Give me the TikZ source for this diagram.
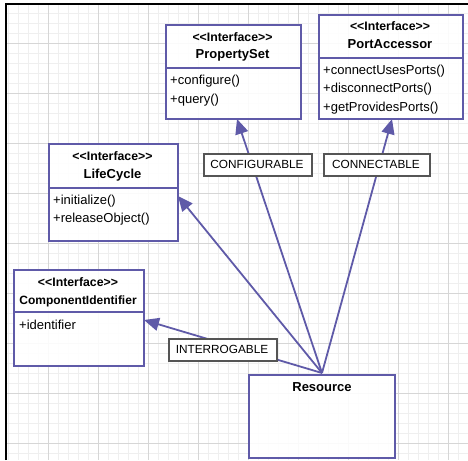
\documentclass[tikz,border=0pt]{standalone}
\usepackage{fontspec}
\setmainfont{Liberation Sans}[Ligatures=TeXOff]
\usetikzlibrary{arrows.meta}

\definecolor{umlblue}{HTML}{5F5AA8}
\definecolor{gridminor}{HTML}{EFEFEF}
\definecolor{gridmajor}{HTML}{D6D6D6}
\definecolor{tagedge}{HTML}{555555}

\tikzset{
  umlbox/.style={draw=umlblue, line width=2.4pt, fill=white, fill opacity=0.9,
    rectangle, inner sep=0pt, anchor=north west},
  divider/.style={draw=umlblue, line width=2pt},
  stereo/.style={font=\fontsize{12.3}{14}\selectfont\bfseries, inner sep=0pt},
  cname/.style={font=\fontsize{13}{15}\selectfont\bfseries, inner sep=0pt},
  member/.style={font=\fontsize{13}{15}\selectfont, inner sep=0pt, anchor=west},
  realize/.style={draw=umlblue, line width=1.8pt,
    -{Triangle[length=15pt,width=13pt]}},
  tag/.style={draw=tagedge, line width=1.8pt, fill=white, inner sep=0pt,
    anchor=north west},
  tagtext/.style={font=\fontsize{11.8}{13}\selectfont, inner sep=0pt},
}

\begin{document}
\begin{tikzpicture}[x=1pt,y=-1pt]
\useasboundingbox (0,0) rectangle (468,460);

% background grid
\foreach \x in {8,18,...,468} \draw[gridminor, line width=0.8pt] (\x,4) -- (\x,460);
\foreach \y in {3,13,...,460} \draw[gridminor, line width=0.8pt] (6,\y) -- (468,\y);
\foreach \x in {48,98,...,468} \draw[gridmajor, line width=0.8pt] (\x,4) -- (\x,460);
\foreach \y in {43,93,...,460} \draw[gridmajor, line width=0.8pt] (6,\y) -- (468,\y);

% canvas frame
\draw[black, line width=2.6pt] (6,460) -- (6,4) -- (468,4);

% ---- PropertySet
\node[umlbox, minimum width=135pt, minimum height=94pt] (ps) at (165,24) {};
\draw[divider] (165,68) -- (300,68);
\node[stereo] (psst) at (232.5,37) {<<Interface>>};
\node[cname] (psnm) at (232.5,55) {PropertySet};
\node[member] (psm1) at (170,81) {+configure()};
\node[member] (psm2) at (170,100) {+query()};

% ---- PortAccessor
\node[umlbox, minimum width=144pt, minimum height=104pt] (pa) at (318,14) {};
\draw[divider] (318,58) -- (462,58);
\node[stereo] (past) at (390,26) {<<Interface>>};
\node[cname] (panm) at (390,44) {PortAccessor};
\node[member] (pam1) at (323,71) {+connectUsesPorts()};
\node[member] (pam2) at (323,89.5) {+disconnectPorts()};
\node[member] (pam3) at (323,108) {+getProvidesPorts()};

% ---- LifeCycle
\node[umlbox, minimum width=129pt, minimum height=97pt] (lc) at (48,143) {};
\draw[divider] (48,188) -- (177,188);
\node[stereo] (lcst) at (112.5,156) {<<Interface>>};
\node[cname] (lcnm) at (112.5,175) {LifeCycle};
\node[member] (lcm1) at (53,201) {+initialize()};
\node[member] (lcm2) at (53,219.5) {+releaseObject()};

% ---- ComponentIdentifier
\node[umlbox, minimum width=130pt, minimum height=96pt] (ci) at (13,269) {};
\draw[divider] (13,312) -- (143,312);
\node[stereo] (cist) at (78,282) {<<Interface>>};
\node[cname, font=\fontsize{12}{14}\selectfont\bfseries] (cinm) at (78,301) {ComponentIdentifier};
\node[member] (cim1) at (19,325) {+identifier};

% ---- Resource
\node[umlbox, minimum width=146pt, minimum height=83pt] (res) at (248,374) {};
\node[cname] (resnm) at (322,387) {Resource};

% connector end points on the interface borders
\coordinate (hub) at (322,373);
\coordinate (psend) at (237,119);
\coordinate (paend) at (392,119);
\coordinate (lcend) at (178,196);
\coordinate (ciend) at (144,320);

\draw[realize] (hub) -- (psend);
\draw[realize] (hub) -- (paend);
\draw[realize] (hub) -- (lcend);
\draw[realize] (hub) -- (ciend);

% relation labels
\node[tag, minimum width=108pt, minimum height=22pt] (tcfg) at (203,153) {};
\node[tagtext] (tcfgt) at (257,164) {CONFIGURABLE};
\node[tag, minimum width=106pt, minimum height=22pt] (tcon) at (323,153) {};
\node[tagtext] (tcont) at (376,164) {CONNECTABLE};
\node[tag, minimum width=108pt, minimum height=22pt] (tint) at (168,338) {};
\node[tagtext] (tintt) at (222,349) {INTERROGABLE};
\end{tikzpicture}
\end{document}
